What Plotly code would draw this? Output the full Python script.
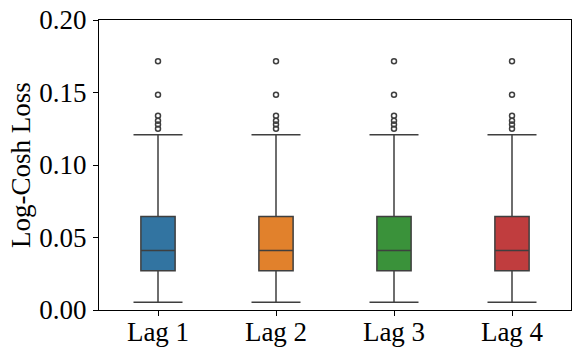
import plotly.graph_objects as go

lags = ['Lag 1', 'Lag 2', 'Lag 3', 'Lag 4']
q1 = [0.0270, 0.0270, 0.0270, 0.0270]
medians = [0.0410, 0.0410, 0.0410, 0.0410]
q3 = [0.0645, 0.0645, 0.0645, 0.0645]
lower_fence = [0.0053, 0.0053, 0.0053, 0.0053]
upper_fence = [0.1209, 0.1209, 0.1209, 0.1209]
outliers = [0.1250, 0.1280, 0.1306, 0.1340, 0.1485, 0.1716]

colores = ['#3274a1', '#e1812c', '#3a923a', '#c03d3e']
gris = '#3f3f3f'
fuente = 'Liberation Serif, DejaVu Serif, serif'

fig = go.Figure()

for i, lag in enumerate(lags):
    fig.add_trace(go.Box(
        x=[lag], q1=[q1[i]], median=[medians[i]], q3=[q3[i]],
        lowerfence=[lower_fence[i]], upperfence=[upper_fence[i]],
        fillcolor=colores[i], line=dict(color=gris, width=1.5),
        width=0.29, whiskerwidth=0, boxpoints=False, showlegend=False))
    # caps de los bigotes
    fig.add_trace(go.Scatter(
        x=[lag, lag], y=[lower_fence[i], upper_fence[i]], mode='markers',
        marker=dict(symbol='line-ew', size=35, line=dict(color=gris, width=1.5)),
        showlegend=False, hoverinfo='skip'))
    # outliers
    fig.add_trace(go.Scatter(
        x=[lag] * len(outliers), y=outliers, mode='markers',
        marker=dict(symbol='circle-open', size=5, color=gris, line=dict(color=gris, width=1.5)),
        showlegend=False))

fig.update_layout(
    width=581, height=356,
    margin=dict(l=99, r=10, t=20, b=46),
    plot_bgcolor='white', paper_bgcolor='white',
    font=dict(family=fuente, size=27, color='black'),
)
fig.update_xaxes(type='category', showline=True, linecolor='black', linewidth=1.2, mirror=True,
                 ticks='outside', ticklen=5, tickcolor='black', showgrid=False,
                 range=[-0.5, 3.5], automargin=False, ticklabelstandoff=-8)
fig.update_yaxes(title=dict(text='Log-Cosh Loss', standoff=0, font=dict(size=27)), range=[0, 0.2],
                 tickvals=[0, 0.05, 0.10, 0.15, 0.20],
                 ticktext=['0.00', '0.05', '0.10', '0.15', '0.20'],
                 showline=True, linecolor='black', linewidth=1.2, mirror=True,
                 ticks='outside', ticklen=5, tickcolor='black', showgrid=False, zeroline=False,
                 automargin=False, ticklabelstandoff=1)

# quitar el margen por defecto del body
fig.write_html("out.html", config={'displayModeBar': False},
               post_script="document.body.style.margin='0px';")
